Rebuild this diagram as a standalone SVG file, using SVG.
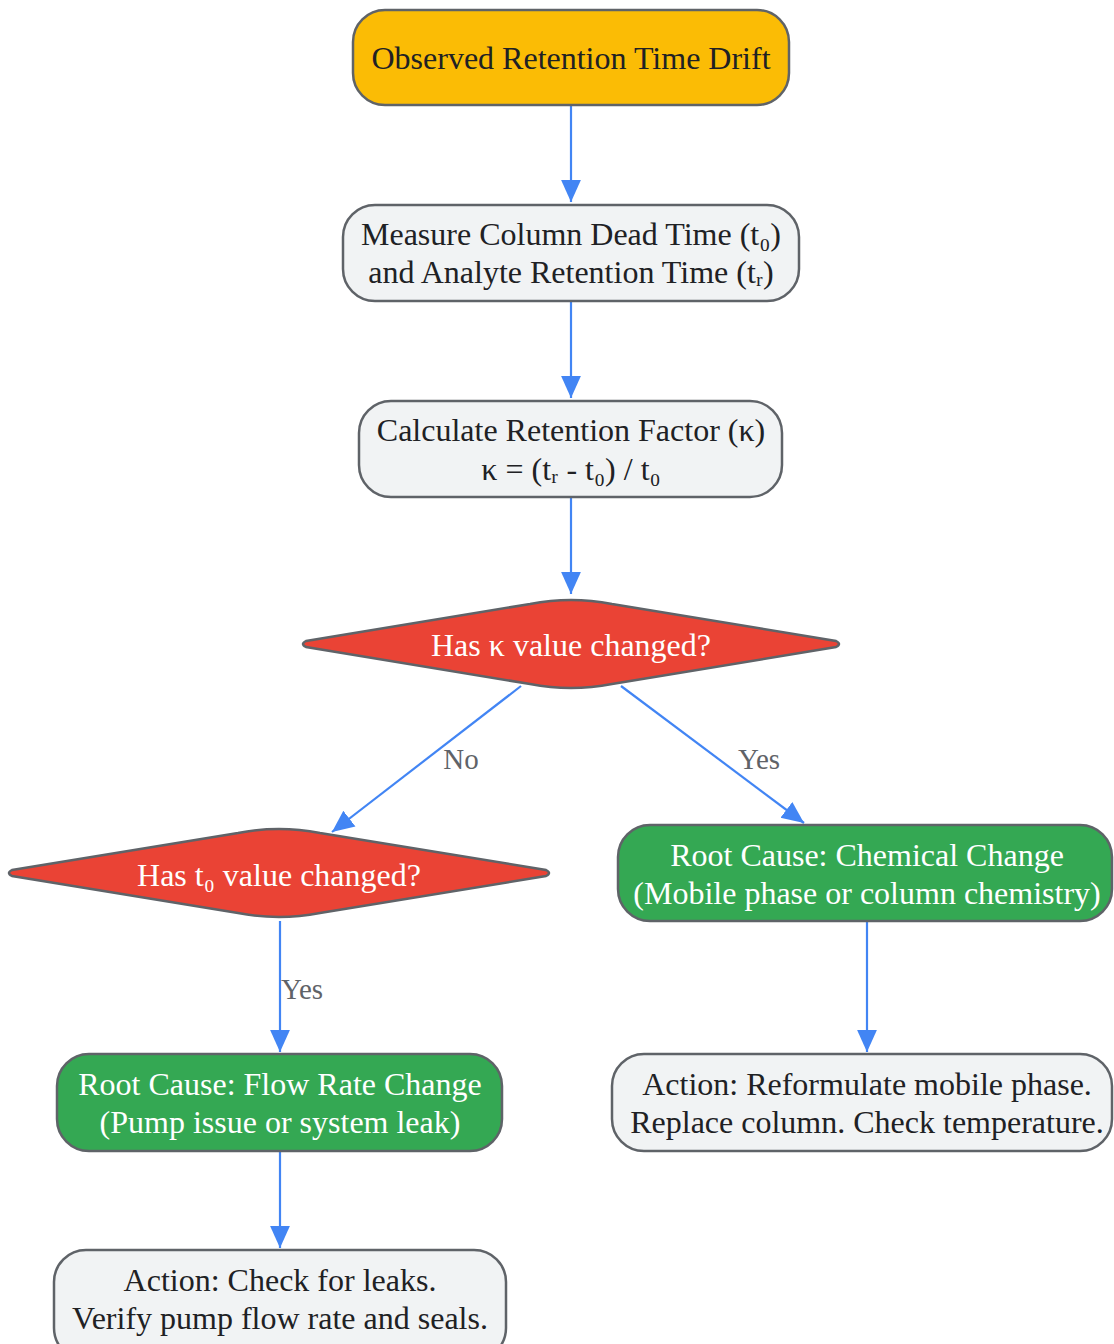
<svg xmlns="http://www.w3.org/2000/svg" width="1114" height="1344" viewBox="0 0 1114 1344">
<style>
.box{stroke:#5f6368;stroke-width:2.5}
.gray{fill:#f1f3f4}
.yellow{fill:#fbbc05}
.green{fill:#34a853}
.red{fill:#ea4335}
text{font-family:"Liberation Serif","Times New Roman",serif;font-size:32px;text-anchor:middle}
.dark{fill:#202124}
.light{fill:#ffffff}
.lbl{font-size:29px;fill:#5f6368}
.edge{stroke:#4285f4;stroke-width:2.2;fill:none}
</style>
<defs>
<marker id="ah" viewBox="0 0 10 10" refX="10" refY="5" markerWidth="22" markerHeight="22" markerUnits="userSpaceOnUse" orient="auto">
<path d="M0,0.5 L10,5 L0,9.5 z" fill="#4285f4"/>
</marker>
</defs>
<g id="connectors">
<line class="edge" x1="571" y1="106" x2="571" y2="202" marker-end="url(#ah)"/>
<line class="edge" x1="571" y1="302" x2="571" y2="398" marker-end="url(#ah)"/>
<line class="edge" x1="571" y1="498" x2="571" y2="594" marker-end="url(#ah)"/>
<line class="edge" x1="521" y1="686" x2="332" y2="832" marker-end="url(#ah)"/>
<line class="edge" x1="621" y1="686" x2="804" y2="823" marker-end="url(#ah)"/>
<line class="edge" x1="280" y1="921" x2="280" y2="1052" marker-end="url(#ah)"/>
<line class="edge" x1="867" y1="922" x2="867" y2="1052" marker-end="url(#ah)"/>
<line class="edge" x1="280" y1="1152" x2="280" y2="1248" marker-end="url(#ah)"/>
<text class="lbl" x="461" y="769">No</text>
<text class="lbl" x="759" y="769">Yes</text>
<text class="lbl" x="302" y="999">Yes</text>
</g>
<g id="n1">
<rect class="box yellow" x="353" y="10" width="436" height="95" rx="32"/>
<text class="dark" x="571" y="69">Observed Retention Time Drift</text>
</g>
<g id="n2">
<rect class="box gray" x="343" y="205" width="456" height="96" rx="32"/>
<text class="dark" x="571" y="245">Measure Column Dead Time (t₀)</text>
<text class="dark" x="571" y="283">and Analyte Retention Time (tᵣ)</text>
</g>
<g id="n3">
<rect class="box gray" x="359" y="401" width="423" height="96" rx="32"/>
<text class="dark" x="571" y="441">Calculate Retention Factor (κ)</text>
<text class="dark" x="571" y="480">κ = (tᵣ - t₀) / t₀</text>
</g>
<g id="d1">
<path class="box red" d="M306,641 L530,604 Q571,596 612,604 L836,641 Q842,644 836,647 L612,684 Q571,692 530,684 L306,647 Q300,644 306,641 Z"/>
<text class="light" x="571" y="656">Has κ value changed?</text>
</g>
<g id="d2">
<path class="box red" d="M12,870 L238,833 Q279,825 320,833 L546,870 Q552,873 546,876 L320,913 Q279,921 238,913 L12,876 Q6,873 12,870 Z"/>
<text class="light" x="279" y="886">Has t₀ value changed?</text>
</g>
<g id="n_chem">
<rect class="box green" x="618" y="825" width="494" height="96" rx="32"/>
<text class="light" x="867" y="866">Root Cause: Chemical Change</text>
<text class="light" x="867" y="904">(Mobile phase or column chemistry)</text>
</g>
<g id="n_flow">
<rect class="box green" x="57" y="1054" width="445" height="97" rx="32"/>
<text class="light" x="280" y="1095">Root Cause: Flow Rate Change</text>
<text class="light" x="280" y="1133">(Pump issue or system leak)</text>
</g>
<g id="n_act_r">
<rect class="box gray" x="612" y="1054" width="500" height="97" rx="32"/>
<text class="dark" x="867" y="1095">Action: Reformulate mobile phase.</text>
<text class="dark" x="867" y="1133">Replace column. Check temperature.</text>
</g>
<g id="n_act_l">
<rect class="box gray" x="54" y="1250" width="452" height="110" rx="32"/>
<text class="dark" x="280" y="1291">Action: Check for leaks.</text>
<text class="dark" x="280" y="1329">Verify pump flow rate and seals.</text>
</g>
</svg>
